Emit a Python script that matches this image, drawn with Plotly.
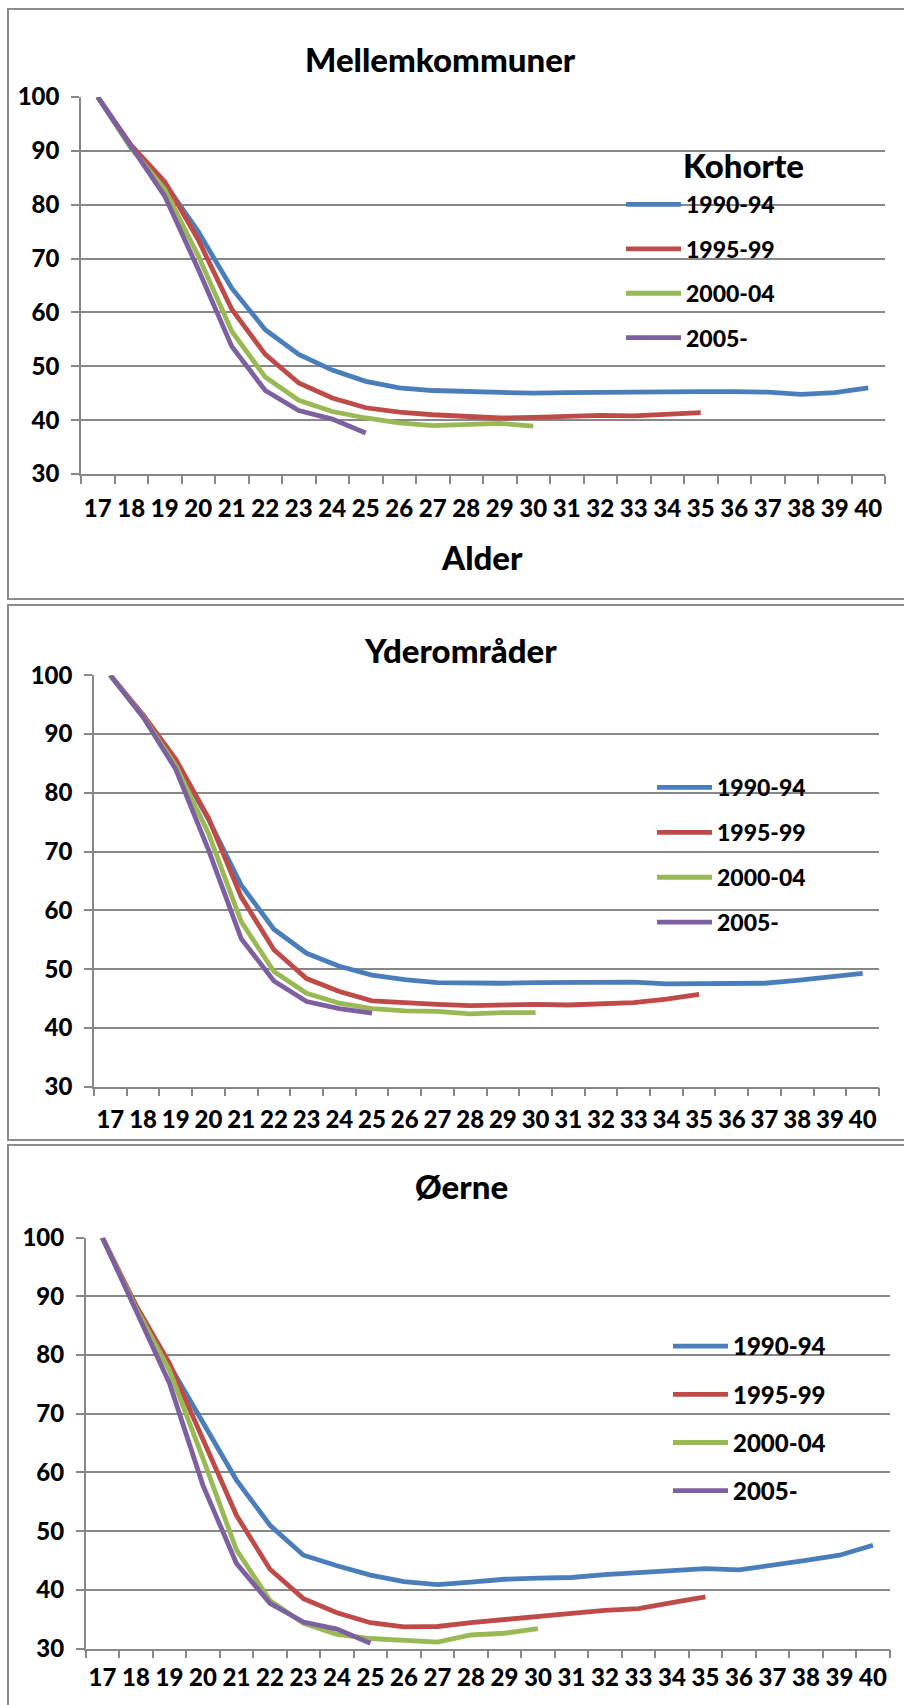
import plotly.graph_objects as go

# ---------------- data ----------------
ages = [str(a) for a in range(17, 41)]
cohorts = ["1990-94", "1995-99", "2000-04", "2005-"]

mellem_1990 = [100, 90.5, 84.0, 75.0, 64.5, 56.8, 52.2, 49.3, 47.2, 46.0, 45.5, 45.3,
               45.0, 45.0, 45.1, 45.2, 45.3, 45.2, 45.3, 45.3, 45.2, 44.8, 45.1, 46.0]
mellem_1995 = [100, 91.0, 84.3, 73.5, 60.6, 52.2, 46.9, 44.1, 42.3, 41.5, 41.0, 40.7,
               40.4, 40.5, 40.7, 40.9, 40.8, 41.0, 41.4]
mellem_2000 = [100, 90.5, 82.8, 70.5, 56.5, 48.0, 43.7, 41.6, 40.4, 39.5, 39.0, 39.3,
               39.4, 38.9]
mellem_2005 = [100, 90.8, 81.6, 68.0, 53.7, 45.5, 41.8, 40.2, 37.6]

yder_1990 = [100, 93.0, 85.5, 75.5, 64.3, 56.8, 52.7, 50.5, 49.0, 48.2, 47.7, 47.6,
             47.6, 47.7, 47.8, 47.8, 47.8, 47.5, 47.5, 47.4, 47.6, 48.1, 48.8, 49.3]
yder_1995 = [100, 93.3, 85.7, 75.7, 62.3, 53.3, 48.4, 46.2, 44.6, 44.2, 44.0, 43.8,
             44.0, 44.0, 43.9, 44.2, 44.3, 44.9, 45.7]
yder_2000 = [100, 93.0, 84.6, 73.1, 58.1, 49.6, 45.9, 44.2, 43.3, 42.9, 42.8, 42.4,
             42.6, 42.6]
yder_2005 = [100, 92.9, 84.0, 70.3, 55.2, 48.0, 44.5, 43.3, 42.5]

oerne_1990 = [100, 88.0, 78.3, 68.6, 58.7, 51.0, 45.9, 44.1, 42.5, 41.4, 40.9, 41.3,
              41.8, 42.0, 42.1, 42.6, 43.0, 43.2, 43.6, 43.4, 44.1, 45.0, 45.9, 47.6]
oerne_1995 = [100, 88.5, 78.6, 65.8, 52.7, 43.5, 38.5, 36.1, 34.4, 33.7, 33.75, 34.4,
              35.0, 35.5, 36.0, 36.5, 36.8, 37.8, 38.8]
oerne_2000 = [100, 88.0, 77.4, 62.4, 46.8, 38.2, 34.3, 32.4, 31.7, 31.4, 31.1, 32.3,
              32.6, 33.4]
oerne_2005 = [100, 87.5, 75.2, 57.8, 44.5, 37.7, 34.5, 33.3, 30.9]

panel_titles = ["Mellemkommuner", "Yderområder", "Øerne"]
y_ticks = [30, 40, 50, 60, 70, 80, 90, 100]

# ---------------- style ----------------
W, H = 904, 1705
colors = ["#4A7EBB", "#BE4B48", "#98B954", "#7D60A0"]
grid_c = "#878787"
FONT = "Lato"
WEIGHT = 900
tick_font = dict(family=FONT, size=24, color="black", weight=WEIGHT)
big_font = dict(family=FONT, size=33, color="black", weight=WEIGHT)


def px_x(p):
    return p / W


def px_y(p):
    return 1 - p / H


panels = [
    dict(series=[mellem_1990, mellem_1995, mellem_2000, mellem_2005],
         x0=81, x1=885, ytop=97, ybot=474, box=(9, 599),
         title_xy=(440, 59), legend_xy=(621, 183), leg_font=23, leg_gap=11.5,
         xstand=12),
    dict(series=[yder_1990, yder_1995, yder_2000, yder_2005],
         x0=94, x1=879, ytop=675.3, ybot=1086.7, box=(605, 1140),
         title_xy=(460, 650), legend_xy=(652, 766), leg_font=23, leg_gap=12,
         xstand=11),
    dict(series=[oerne_1990, oerne_1995, oerne_2000, oerne_2005],
         x0=85.7, x1=889.7, ytop=1237.7, ybot=1648.5, box=(1145, 1720),
         title_xy=(461, 1186), legend_xy=(668, 1324), leg_font=24, leg_gap=14,
         xstand=7),
]

fig = go.Figure()
annotations = []
shapes = []
layout_axes = {}

for i, p in enumerate(panels):
    n = i + 1
    xa = "x" if n == 1 else f"x{n}"
    ya = "y" if n == 1 else f"y{n}"
    leg = "legend" if n == 1 else f"legend{n}"
    for j, (vals, name) in enumerate(zip(p["series"], cohorts)):
        fig.add_trace(go.Scatter(
            x=ages[:len(vals)], y=vals, name=name, mode="lines",
            line=dict(color=colors[j], width=4.8),
            xaxis=xa, yaxis=ya, legend=leg, legendgroup=f"{n}-{j}",
            hoverinfo="skip",
        ))
    xkey = "xaxis" if n == 1 else f"xaxis{n}"
    ykey = "yaxis" if n == 1 else f"yaxis{n}"
    layout_axes[xkey] = dict(
        domain=[px_x(p["x0"]), px_x(p["x1"])], anchor=ya,
        type="category", categoryorder="array", categoryarray=ages,
        range=[-0.5, len(ages) - 0.5], tickson="boundaries",
        ticks="outside", ticklen=8, tickwidth=1.5, tickcolor=grid_c,
        showline=True, linecolor=grid_c, linewidth=1.5, showgrid=False,
        tickfont=tick_font, tickangle=0, ticklabelstandoff=p["xstand"],
        automargin=False, fixedrange=True,
    )
    layout_axes[ykey] = dict(
        domain=[px_y(p["ybot"]), px_y(p["ytop"])], anchor=xa,
        range=[30, 100], tickvals=y_ticks, ticks="outside", ticklen=8,
        tickwidth=1.5, tickcolor=grid_c, showline=True, linecolor=grid_c,
        linewidth=1.5, showgrid=True, gridcolor=grid_c, gridwidth=1.5,
        zeroline=False, tickfont=tick_font, ticklabelstandoff=7,
        automargin=False, fixedrange=True,
    )
    layout_axes[leg] = dict(
        x=px_x(p["legend_xy"][0]), y=px_y(p["legend_xy"][1]),
        xanchor="left", yanchor="top", bgcolor="rgba(0,0,0,0)",
        font=dict(family=FONT, size=p["leg_font"], color="black", weight=WEIGHT),
        itemwidth=55, tracegroupgap=p["leg_gap"], traceorder="grouped",
    )
    annotations.append(dict(
        text=panel_titles[i], x=px_x(p["title_xy"][0]), y=px_y(p["title_xy"][1]),
        xref="paper", yref="paper", showarrow=False, font=big_font,
        xanchor="center", yanchor="middle",
    ))
    shapes.append(dict(
        type="rect", xref="paper", yref="paper",
        x0=px_x(8), x1=px_x(930), y0=px_y(p["box"][1]), y1=px_y(p["box"][0]),
        line=dict(color="#8c8c8c", width=2), fillcolor="rgba(0,0,0,0)",
        layer="below",
    ))

annotations.append(dict(
    text="Alder", x=px_x(482), y=px_y(557), xref="paper", yref="paper",
    showarrow=False, font=big_font, xanchor="center", yanchor="middle"))
annotations.append(dict(
    text="Kohorte", x=px_x(743), y=px_y(165), xref="paper", yref="paper",
    showarrow=False, font=big_font, xanchor="center", yanchor="middle"))

fig.update_layout(
    template="none",
    width=W, height=H, autosize=False,
    margin=dict(l=0, r=0, t=0, b=0, pad=0, autoexpand=False),
    paper_bgcolor="white", plot_bgcolor="white",
    annotations=annotations, shapes=shapes,
    **layout_axes,
)

fig.write_html(
    "out.html",
    config={"displayModeBar": False},
    post_script="document.body.style.margin='0';document.body.style.overflow='hidden';",
)
